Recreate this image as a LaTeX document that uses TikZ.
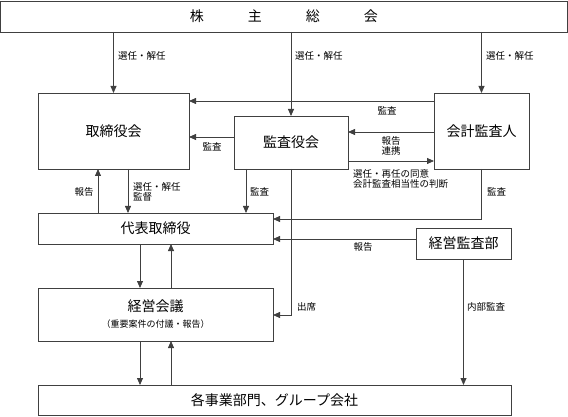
\documentclass[tikz,border=0pt]{standalone}
\usepackage{fontspec}
\newfontfamily\jp{Noto Sans CJK JP}
\usetikzlibrary{calc,arrows.meta}
\begin{document}
\begin{tikzpicture}[x=1pt,y=-1pt,
  box/.style={draw=black!75, line width=0.8pt, inner sep=0pt, outer sep=0pt, anchor=north west,
              font=\jp\fontsize{14}{17}\selectfont, align=center},
  lbl/.style={font=\jp\fontsize{9.5}{10.5}\selectfont, inner sep=0pt, align=left},
  arr/.style={draw=black!75, line width=0.8pt, -{Triangle[length=7pt,width=6pt]}},
  ln/.style={draw=black!75, line width=0.8pt}]
\useasboundingbox (0,0) rectangle (568,417);

% boxes
\node[box, minimum width=566.5pt, minimum height=31pt] (kabu) at (0.5,1)
  {株\hspace{44pt}主\hspace{44pt}総\hspace{44pt}会};
\node[box, minimum width=151pt, minimum height=76pt] (torikai) at (38,93) {取締役会};
\node[box, minimum width=114pt, minimum height=53pt] (kansa) at (234,116) {監査役会};
\node[box, minimum width=95pt, minimum height=76pt] (kaikei) at (434,93) {会計監査人};
\node[box, minimum width=235pt, minimum height=31pt] (daihyo) at (38,213) {代表取締役};
\node[box, minimum width=95pt, minimum height=31pt] (keiei) at (416,228) {経営監査部};
\node[box, minimum width=235pt, minimum height=53pt] (kaigi) at (38,288)
  {経営会議\\[-1pt]{\fontsize{9}{10}\selectfont （重要案件の付議・報告）}};
\node[box, minimum width=473pt, minimum height=30pt] (jigyo) at (38,385) {各事業部門、グループ会社};

% connectors from shareholders
\draw[arr] (torikai.north |- kabu.south) -- (torikai.north);
\draw[arr] (kansa.north |- kabu.south) -- (kansa.north);
\draw[arr] (kaikei.north |- kabu.south) -- (kaikei.north);

% audits to board
\draw[arr] ($(kaikei.north west)+(0,8)$) coordinate (a4) -- (a4 -| torikai.east);
\draw[arr] ($(kansa.west)+(0,-5.5)$) coordinate (a5) -- (a5 -| torikai.east);
\draw[arr] ($(kaikei.west)+(0,1)$) coordinate (a6) -- (a6 -| kansa.east);
\draw[arr] ($(kansa.south east)+(0,-8)$) coordinate (a7) -- (a7 -| kaikei.west);

% to representative director
\coordinate (c8) at ($(daihyo.north east)+(0,6)$);
\draw[arr] (kaikei.south) |- (c8);
\draw[arr] ($(keiei.west)+(0,-4.5)$) coordinate (a9) -- (a9 -| daihyo.east);
\draw[arr] ($(daihyo.north west)+(60,0)$) coordinate (a10) -- (a10 |- torikai.south);
\draw[arr] ($(torikai.south west)+(90,0)$) coordinate (a11) -- (a11 |- daihyo.north);
\draw[arr] ($(kansa.south west)+(12,0)$) coordinate (a12) -- (a12 |- daihyo.north);

% attendance
\coordinate (c13) at ($(kaigi.north east)+(0,27)$);
\draw[arr] (kansa.south) |- (c13);

% management meeting
\draw[arr] ($(daihyo.south west)+(102,0)$) coordinate (a14) -- (a14 |- kaigi.north);
\draw[arr] ($(kaigi.north west)+(133,0)$) coordinate (a15) -- (a15 |- daihyo.south);
\draw[arr] ($(kaigi.south west)+(102,0)$) coordinate (a16) -- (a16 |- jigyo.north);
\draw[arr] ($(jigyo.north west)+(133,0)$) coordinate (a17) -- (a17 |- kaigi.south);

% internal audit
\draw[arr] (keiei.south) -- (keiei.south |- jigyo.north);

% labels
\node[lbl, anchor=west] (l1) at (118,56) {選任・解任};
\node[lbl, anchor=west] (l2) at (295,56) {選任・解任};
\node[lbl, anchor=west] (l3) at (486,56) {選任・解任};
\node[lbl] (l4) at (387,111) {監査};
\node[lbl] (l5) at (212,147) {監査};
\node[lbl, align=center] (l6) at (391,146) {報告\\連携};
\node[lbl, anchor=west] (l7) at (353,179) {選任・再任の同意\\会計監査相当性の判断};
\node[lbl, anchor=west] (l8) at (487,192) {監査};
\node[lbl] (l9) at (84,192) {報告};
\node[lbl, anchor=west] (l10) at (133,192) {選任・解任\\監督};
\node[lbl, anchor=west] (l11) at (250,192) {監査};
\node[lbl] (l12) at (363,247) {報告};
\node[lbl, anchor=west] (l13) at (297,307) {出席};
\node[lbl, anchor=west] (l14) at (467,307) {内部監査};
\end{tikzpicture}
\end{document}
